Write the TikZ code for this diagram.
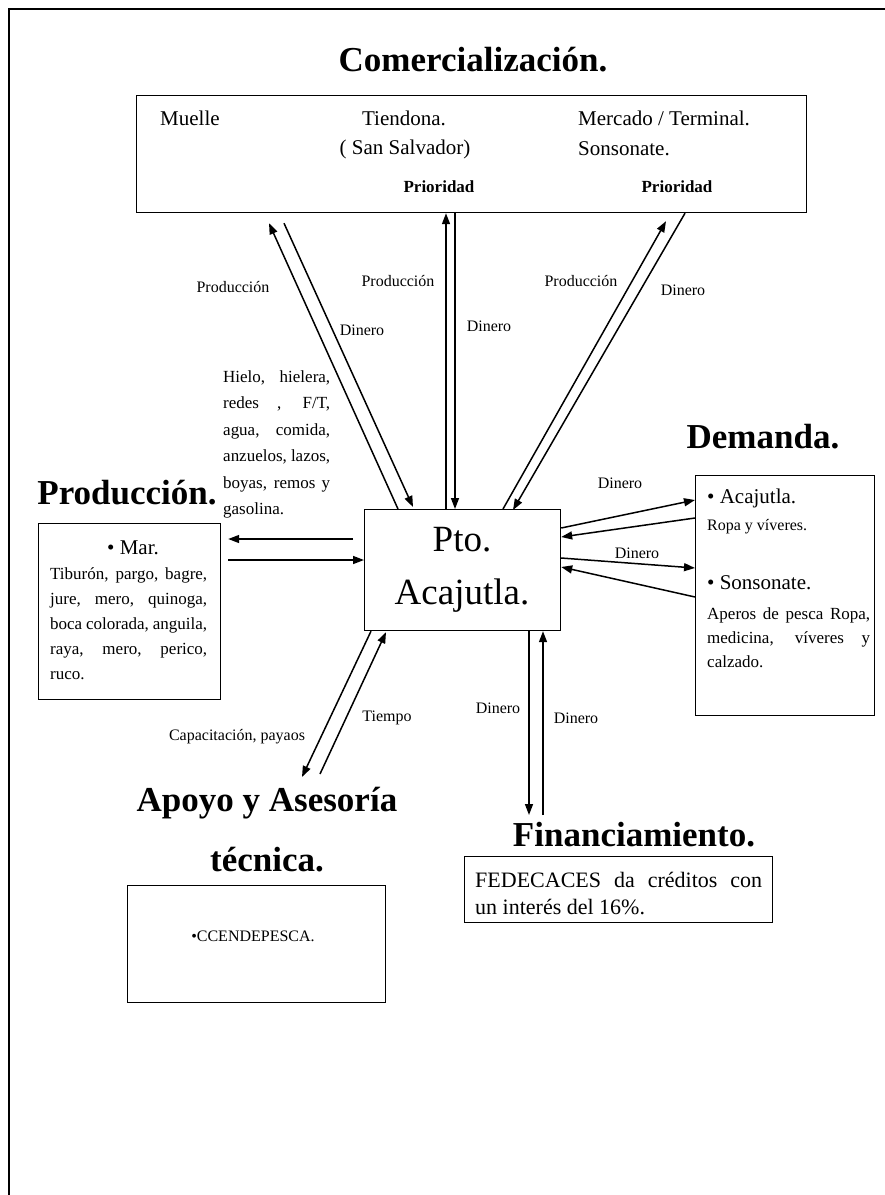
\documentclass[tikz,border=0pt]{standalone}
\usepackage{fontspec}
\setmainfont{Liberation Serif}
\usetikzlibrary{arrows.meta,calc}
\begin{document}
\begin{tikzpicture}[x=1pt,y=-1pt,
  box/.style={draw, line width=1.2pt, inner sep=0pt, anchor=north west},
  ttl/.style={font=\fontsize{35}{42}\selectfont\bfseries, inner sep=0pt},
  lbl/.style={font=\fontsize{16}{19}\selectfont, inner sep=0pt},
  body/.style={font=\fontsize{17}{25}\selectfont, inner sep=0pt, anchor=base west},
  big/.style={font=\fontsize{21}{25}\selectfont, inner sep=0pt},
  arr/.style={line width=1.5pt, -{Triangle[length=11pt,width=8pt]}}]
\useasboundingbox (0,0) rectangle (885,1195);
% frame
\draw[line width=2.2pt] (9,1200) -- (9,9) -- (890,9);

% titles
\node[ttl] (tcom) at (473,60) {Comercialización.};
\node[ttl] (tprod) at (127,493) {Producción.};
\node[ttl] (tdem) at (763,437) {Demanda.};
\node[ttl] (tapo1) at (267,803) {Apoyo y Asesoría};
\node[ttl] (tapo2) at (267,860) {técnica.};
\node[ttl] (tfin) at (634,835) {Financiamiento.};

% boxes
\node[box, minimum width=670pt, minimum height=117pt] (com) at (136,95) {};
\node[box, minimum width=196pt, minimum height=121pt] (pto) at (364,509) {};
\node[box, minimum width=182pt, minimum height=176pt] (mar) at (38,523) {};
\node[box, minimum width=179pt, minimum height=240pt] (dem) at (695,475) {};
\node[box, minimum width=258pt, minimum height=117pt] (apo) at (127,885) {};
\node[box, minimum width=308pt, minimum height=66pt] (fin) at (464,856) {};

% top box texts
\node[big, anchor=west] (muelle) at (160,118) {Muelle};
\node[big] (tiend) at (404,118) {Tiendona.};
\node[big] (sansal) at (405,149) {( San Salvador)};
\node[big, anchor=west] (merc) at (578,118) {Mercado / Terminal.};
\node[big, anchor=west] (sons) at (578,149) {Sonsonate.};
\node[inner sep=0pt, font=\fontsize{17}{20}\selectfont\bfseries] (prio1) at (439,187) {Prioridad};
\node[inner sep=0pt, font=\fontsize{17}{20}\selectfont\bfseries] (prio2) at (677,187) {Prioridad};

% Pto box text
\node[inner sep=0pt, font=\fontsize{37}{44}\selectfont] (pto1) at (462,540) {Pto.};
\node[inner sep=0pt, font=\fontsize{37}{44}\selectfont] (pto2) at (462,596) {Acajutla.};

% Mar box
\node[big] (marh) at (133,548) {• Mar.};
\node[body] (mar1) at (50,579) {\makebox[157pt][s]{Tiburón, pargo, bagre,}};
\node[body] (mar2) at (50,604) {\makebox[157pt][s]{jure, mero, quinoga,}};
\node[body] (mar3) at (50,629) {\makebox[157pt][s]{boca colorada, anguila,}};
\node[body] (mar4) at (50,654) {\makebox[157pt][s]{raya, mero, perico,}};
\node[body] (mar5) at (50,679) {ruco.};

% Hielo block
\node[body] (h1) at (223,382) {\makebox[107pt][s]{Hielo, hielera,}};
\node[body] (h2) at (223,408.5) {\makebox[107pt][s]{redes , F/T,}};
\node[body] (h3) at (223,435) {\makebox[107pt][s]{agua, comida,}};
\node[body] (h4) at (223,461.5) {\makebox[107pt][s]{anzuelos, lazos,}};
\node[body] (h5) at (223,488) {\makebox[107pt][s]{boyas, remos y}};
\node[body] (h6) at (223,514.5) {gasolina.};

% Demanda box
\node[big, anchor=west] (acah) at (707,498) {• Acajutla.};
\node[lbl, anchor=west] (acat) at (707,527) {Ropa y víveres.};
\node[big, anchor=west] (sonh) at (707,583) {• Sonsonate.};
\node[body] (son1) at (707,619) {\makebox[163pt][s]{Aperos de pesca Ropa,}};
\node[body] (son2) at (707,643) {\makebox[163pt][s]{medicina, víveres y}};
\node[body] (son3) at (707,667) {calzado.};

% Apoyo box
\node[lbl] (ccen) at (253,936) {•CCENDEPESCA.};

% Financiamiento box
\node[inner sep=0pt, anchor=base west, font=\fontsize{22}{27}\selectfont] (fin1) at (475,887) {\makebox[287pt][s]{FEDECACES da créditos con}};
\node[inner sep=0pt, anchor=base west, font=\fontsize{22}{27}\selectfont] (fin2) at (475,914) {un interés del 16\%.};

% arrow labels
\node[lbl] (l1) at (233,287) {Producción};
\node[lbl] (l2) at (362,330) {Dinero};
\node[lbl] (l3) at (398,281) {Producción};
\node[lbl] (l4) at (489,326) {Dinero};
\node[lbl] (l5) at (581,281) {Producción};
\node[lbl] (l6) at (683,290) {Dinero};
\node[lbl] (l7) at (620,483) {Dinero};
\node[lbl] (l8) at (637,553) {Dinero};
\node[lbl] (l9) at (387,718) {Tiempo};
\node[lbl] (l10) at (237,737) {Capacitación, payaos};
\node[lbl] (l11) at (498,708) {Dinero};
\node[lbl] (l12) at (576,718) {Dinero};

% free ends
\coordinate (d1) at (302,777);
\coordinate (d2) at (320,774);
\coordinate (e1) at (529,815);
\coordinate (e2) at (543,815);

% top arrows
\draw[arr] ($(pto.north west)+(34,0)$) -- ($(com.south west)+(133,10)$);
\draw[arr] ($(com.south west)+(148,10)$) -- ($(pto.north west)+(49,-2)$);
\draw[arr] ($(pto.north west)+(82,0)$) -- ($(com.south west)+(310,0)$);
\draw[arr] ($(com.south west)+(319,0)$) -- ($(pto.north west)+(91,0)$);
\draw[arr] ($(pto.north west)+(139,0)$) -- ($(com.south west)+(530,8)$);
\draw[arr] ($(com.south west)+(549,0)$) -- ($(pto.north west)+(149,1)$);
% left arrows
\draw[arr] ($(pto.north west)+(-11,30)$) -- ($(mar.north east)+(7,16)$);
\draw[arr] ($(mar.north east)+(7,37)$) -- ($(pto.north west)+(0,51)$);
% right arrows
\draw[arr] ($(pto.north east)+(0,19)$) -- ($(dem.north west)+(0,25)$);
\draw[arr] ($(dem.north west)+(0,43)$) -- ($(pto.north east)+(0,28)$);
\draw[arr] ($(pto.north east)+(0,49)$) -- ($(dem.north west)+(0,93)$);
\draw[arr] ($(dem.north west)+(0,122)$) -- ($(pto.north east)+(0,58)$);
% bottom arrows
\draw[arr] ($(pto.south west)+(7,0)$) -- (d1);
\draw[arr] (d2) -- ($(pto.south west)+(22,1)$);
\draw[arr] ($(pto.south west)+(165,0)$) -- (e1);
\draw[arr] (e2) -- ($(pto.south west)+(179,0)$);
\end{tikzpicture}
\end{document}
